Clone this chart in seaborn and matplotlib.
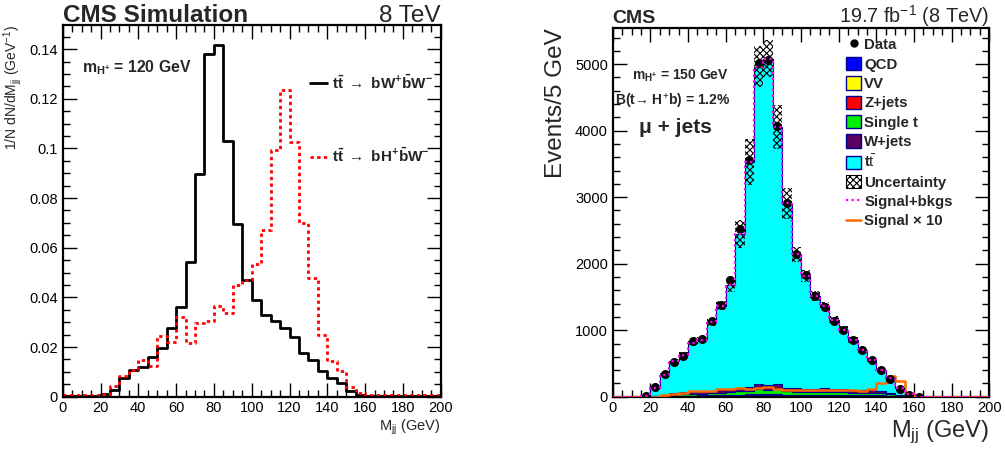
import numpy as np
import pandas as pd
import matplotlib
matplotlib.use("Agg")
import matplotlib.pyplot as plt
from matplotlib.lines import Line2D
from matplotlib.patches import Patch
from matplotlib.ticker import MultipleLocator
import seaborn as sns

# ---------------- data ----------------
edges = np.arange(0, 205, 5)
centers = edges[:-1] + 2.5
HB = dict(binwidth=5, binrange=(0, 200))

# left panel: normalised Mjj shapes (per 5 GeV bin)
shape_ww = [0.0003, 0.0003, 0.0003, 0.0003, 0.0010, 0.0028, 0.0075, 0.0108, 0.0119, 0.0160,
            0.0195, 0.0278, 0.0362, 0.0543, 0.0897, 0.1380, 0.1418, 0.1030, 0.0697, 0.0472,
            0.0389, 0.0329, 0.0306, 0.0275, 0.0242, 0.0178, 0.0148, 0.0102, 0.0075, 0.0057,
            0.0021, 0.0005, 0.0002, 0.0002, 0.0002, 0.0002, 0.0002, 0.0002, 0.0002, 0.0002]
shape_hw = [0.0006, 0.0006, 0.0006, 0.0006, 0.0012, 0.0044, 0.0084, 0.0108, 0.0146, 0.0124,
            0.0245, 0.0222, 0.0320, 0.0215, 0.0298, 0.0305, 0.0365, 0.0336, 0.0449, 0.0472,
            0.0536, 0.0672, 0.0993, 0.1234, 0.1024, 0.0699, 0.0479, 0.0249, 0.0144, 0.0102,
            0.0041, 0.0015, 0.0005, 0.0005, 0.0005, 0.0005, 0.0005, 0.0005, 0.0005, 0.0005]

# right panel: events / 5 GeV
data_evt = [0, 0, 0, 8, 145, 346, 522, 607, 833, 868,
            1145, 1385, 1762, 2515, 3560, 5025, 5065, 4070, 2917, 2149,
            1837, 1511, 1345, 1145, 1009, 848, 698, 557, 397, 266,
            115, 30, 2, 0, 0, 0, 0, 0, 0, 0]
qcd = [0, 0, 0, 0, 1, 5, 8, 10, 11, 12, 13, 15, 16, 20, 21, 28, 27, 28, 20, 19,
       17, 17, 19, 17, 17, 16, 15, 14, 14, 9, 4, 1, 0, 0, 0, 0, 0, 0, 0, 0]
vv = [0, 0, 0, 0, 0, 1, 2, 2, 2, 2, 3, 3, 3, 4, 4, 6, 5, 6, 4, 4,
      3, 3, 4, 3, 3, 3, 3, 3, 3, 2, 1, 0, 0, 0, 0, 0, 0, 0, 0, 0]
zjets = [0, 0, 0, 0, 0, 2, 4, 5, 5, 6, 6, 7, 8, 9, 10, 13, 13, 13, 9, 9,
         8, 8, 9, 8, 8, 7, 7, 7, 6, 4, 2, 0, 0, 0, 0, 0, 0, 0, 0, 0]
single_t = [0, 0, 0, 0, 2, 10, 19, 22, 26, 28, 30, 35, 38, 47, 49, 65, 63, 65, 47, 44,
            40, 38, 44, 38, 38, 37, 35, 33, 32, 21, 9, 2, 0, 0, 0, 0, 0, 0, 0, 0]
wjets = [0, 0, 0, 1, 2, 12, 22, 26, 31, 32, 33, 40, 45, 55, 56, 73, 72, 73, 55, 49,
         47, 44, 49, 44, 44, 42, 40, 38, 35, 24, 9, 2, 0, 0, 0, 0, 0, 0, 0, 0]
ttbar = [0, 0, 0, 4, 125, 300, 477, 567, 733, 778, 1035, 1270, 1577, 2305, 3390, 4780,
         4905, 3876, 2772, 2014, 1707, 1401, 1235, 1050, 899, 743, 598, 462, 307, 221,
         105, 40, 0, 0, 0, 0, 0, 0, 0, 0]
unc = [0, 0, 0, 1, 10, 20, 30, 40, 45, 45, 55, 65, 110, 210, 350, 310, 280, 330, 230, 110,
       90, 75, 70, 55, 50, 45, 35, 28, 22, 15, 8, 3, 0, 0, 0, 0, 0, 0, 0, 0]
signal_x10 = [0, 0, 0, 0, 0, 30, 40, 55, 80, 80, 90, 120, 120, 130, 115, 130, 140, 115, 105, 105,
              95, 95, 95, 105, 105, 95, 90, 120, 205, 316, 230, 55, 0, 0, 0, 0, 0, 0, 0, 0]

processes = ["tt", "W+jets", "Single t", "Z+jets", "VV", "QCD"]
proc_vals = {"tt": ttbar, "W+jets": wjets, "Single t": single_t,
             "Z+jets": zjets, "VV": vv, "QCD": qcd}
proc_colors = {"tt": "#00ffff", "W+jets": "#5a0060", "Single t": "#00ee00",
               "Z+jets": "#ff0000", "VV": "#ffff00", "QCD": "#0000ff"}

# ---------------- style ----------------
sns.set_theme(style="ticks")
plt.rcParams["font.family"] = ["Liberation Sans", "DejaVu Sans"]
plt.rcParams["mathtext.fontset"] = "custom"
plt.rcParams["mathtext.rm"] = "Liberation Sans"
plt.rcParams["mathtext.it"] = "Liberation Sans:italic"
plt.rcParams["mathtext.bf"] = "Liberation Sans:bold"
plt.rcParams["hatch.linewidth"] = 0.8

fig = plt.figure(figsize=(10.05, 4.54), dpi=100)
axL = fig.add_axes([0.0624, 0.1262, 0.3761, 0.8187])
axR = fig.add_axes([0.6097, 0.1262, 0.3747, 0.8115])


def root_ticks(ax, xmin, xmaj, ymaj, ymin):
    ax.xaxis.set_major_locator(MultipleLocator(xmaj))
    ax.xaxis.set_minor_locator(MultipleLocator(xmin))
    ax.yaxis.set_major_locator(MultipleLocator(ymaj))
    ax.yaxis.set_minor_locator(MultipleLocator(ymin))
    ax.tick_params(which="both", direction="in", top=True, right=True,
                   labelsize=10.5, colors="black", width=1.0)
    ax.tick_params(which="major", length=10)
    ax.tick_params(which="minor", length=5)
    ax.tick_params(axis="x", pad=3)
    for s in ax.spines.values():
        s.set_linewidth(1.6)
        s.set_color("black")


# ---------------- left panel ----------------
dfL = pd.DataFrame({"mjj": centers, "ww": shape_ww, "hw": shape_hw})
sns.histplot(data=dfL, x="mjj", weights="ww", element="step", fill=False,
             color="black", linewidth=2.0, ax=axL, **HB)
sns.histplot(data=dfL, x="mjj", weights="hw", element="step", fill=False,
             color="red", linewidth=2.0, linestyle=(0, (1.2, 1.2)), ax=axL, **HB)
axL.set_xlim(0, 200)
axL.set_ylim(0, 0.1497)
root_ticks(axL, 5, 20, 0.02, 0.005)
axL.set_yticks([0, 0.02, 0.04, 0.06, 0.08, 0.1, 0.12, 0.14])
axL.set_yticklabels(["0", "0.02", "0.04", "0.06", "0.08", "0.1", "0.12", "0.14"])
axL.set_xlabel(r"M$_{\rm jj}$ (GeV)", fontsize=10.5, loc="right", labelpad=2)
axL.set_ylabel(r"1/N dN/dM$_{\rm jj}$ (GeV$^{-1}$)", fontsize=10, loc="top", labelpad=4)
axL.text(0.0, 1.008, "CMS Simulation", transform=axL.transAxes, fontsize=17.5,
         fontweight="bold", ha="left", va="baseline")
axL.text(1.0, 1.008, "8 TeV", transform=axL.transAxes, fontsize=17.5,
         ha="right", va="baseline")
axL.text(0.05, 0.885, r"$\mathbf{m_{H^{+}}}$ = 120 GeV", transform=axL.transAxes,
         fontsize=11.3, fontweight="bold", ha="left", va="center")
hL = [Line2D([], [], color="black", lw=2.0),
      Line2D([], [], color="red", lw=2.0, linestyle=(0, (1.2, 1.2)))]
labL = [r"$\mathbf{t\bar{t}}\ \rightarrow\ \mathbf{bW^{+}\bar{b}W^{-}}$",
        r"$\mathbf{t\bar{t}}\ \rightarrow\ \mathbf{bH^{+}\bar{b}W^{-}}$"]
axL.legend(hL, labL, loc="upper left", bbox_to_anchor=(0.655, 0.87), frameon=False,
           fontsize=11, handlelength=1.1, handletextpad=0.3, labelspacing=3.6,
           borderpad=0, borderaxespad=0)

# ---------------- right panel ----------------
rows = []
for p in processes:
    for c, v in zip(centers, proc_vals[p]):
        rows.append({"mjj": c, "w": v, "proc": p})
dfR = pd.DataFrame(rows)
sns.histplot(data=dfR, x="mjj", weights="w", hue="proc", hue_order=processes,
             palette=proc_colors, multiple="stack", element="step",
             fill=True, alpha=1.0, edgecolor="#000090", linewidth=0.8,
             legend=False, ax=axR, **HB)

total = np.sum([np.asarray(proc_vals[p]) for p in processes], axis=0)
unc_arr = np.asarray(unc)
axR.bar(centers, 2 * unc_arr, bottom=total - unc_arr, width=5, fill=False,
        hatch="xxxxx", edgecolor="black", linewidth=0, zorder=3)

dfS = pd.DataFrame({"mjj": centers, "sig": signal_x10, "tot": total})
sns.histplot(data=dfS, x="mjj", weights="sig", element="step", fill=False,
             color="#ff6a00", linewidth=1.8, ax=axR, zorder=4, **HB)

mask = (centers > 15) & (centers < 165)
axR.plot(centers[mask], np.asarray(data_evt)[mask], "o", color="black",
         markersize=5.5, zorder=5)
sns.histplot(data=dfS, x="mjj", weights="tot", element="step", fill=False,
             color="#ff00ff", linewidth=1.6, linestyle=(0, (1.0, 1.5)), ax=axR, zorder=6, **HB)

axR.set_xlim(0, 200)
axR.set_ylim(0, 5540)
root_ticks(axR, 5, 20, 1000, 200)
axR.set_xlabel(r"M$_{\rm jj}$ (GeV)", fontsize=17, loc="right", labelpad=3)
axR.set_ylabel("Events/5 GeV", fontsize=17.5, loc="top", labelpad=6)
axR.text(0.0, 1.015, "CMS", transform=axR.transAxes, fontsize=14,
         fontweight="bold", ha="left", va="baseline")
axR.text(1.0, 1.015, r"19.7 fb$^{-1}$ (8 TeV)", transform=axR.transAxes, fontsize=14.3,
         ha="right", va="baseline")
axR.text(0.05, 0.87, r"$\mathbf{m_{H^{+}}}$ = 150 GeV", transform=axR.transAxes,
         fontsize=10, fontweight="bold", ha="left", va="center")
axR.text(0.005, 0.80, "B(t\u2192 H$^{+}$b) = 1.2%", transform=axR.transAxes,
         fontsize=10, fontweight="bold", ha="left", va="center")
axR.text(0.07, 0.73, "\u03bc + jets", transform=axR.transAxes,
         fontsize=15, fontweight="bold", ha="left", va="center")

hR = [Line2D([], [], color="black", marker="o", linestyle="none", markersize=5),
      Patch(facecolor=proc_colors["QCD"], edgecolor="#000090", lw=1),
      Patch(facecolor=proc_colors["VV"], edgecolor="#000090", lw=1),
      Patch(facecolor=proc_colors["Z+jets"], edgecolor="#000090", lw=1),
      Patch(facecolor=proc_colors["Single t"], edgecolor="#000090", lw=1),
      Patch(facecolor=proc_colors["W+jets"], edgecolor="#000090", lw=1),
      Patch(facecolor=proc_colors["tt"], edgecolor="#000090", lw=1),
      Patch(facecolor="white", edgecolor="black", hatch="xxxxx", lw=0.8),
      Line2D([], [], color="#ff00ff", lw=1.6, linestyle=(0, (1.0, 1.5))),
      Line2D([], [], color="#ff6a00", lw=1.8)]
labR = ["Data", "QCD", "VV", "Z+jets", "Single t", "W+jets", r"t$\bar{\rm t}$",
        "Uncertainty", "Signal+bkgs", "Signal \u00d7 10"]
legR = axR.legend(hR, labR, loc="upper left", bbox_to_anchor=(0.62, 0.975), frameon=False,
                  fontsize=10.8, handlelength=1.0, handleheight=1.0, handletextpad=0.2,
                  labelspacing=0.3, borderpad=0, borderaxespad=0)
for t in legR.get_texts():
    t.set_fontweight("bold")

fig.savefig("out.png", dpi=100)
